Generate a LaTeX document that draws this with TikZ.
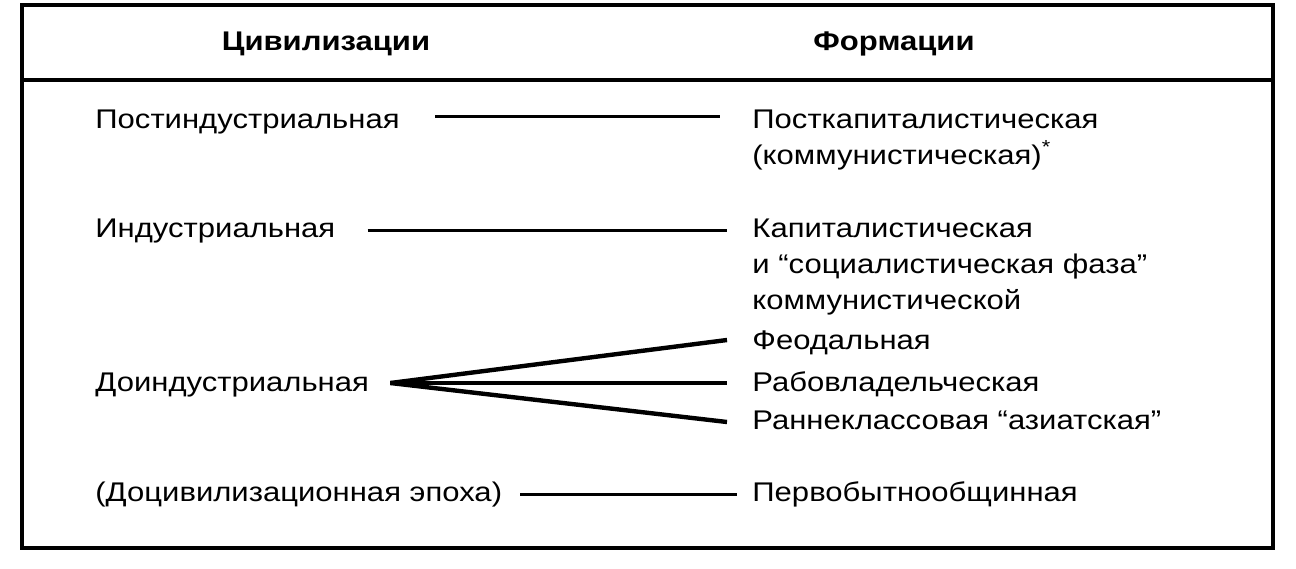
\documentclass[tikz,border=0pt]{standalone}
\usepackage{fontspec}
\setmainfont{Liberation Sans}[FakeStretch=1.15]
\usepackage{tikz}
\usetikzlibrary{scopes}

\newcommand{\txtsize}{\fontsize{13.5pt}{18.2pt}\selectfont}

\tikzset{
	lbl/.style={anchor=base west,align=left,inner sep=0pt,font=\txtsize},
	hdr/.style={anchor=base,inner sep=0pt,font=\txtsize\bfseries},
	link/.style={line width=1.5pt},
	fan/.style={line width=2.2pt},
	frame/.style={line width=2pt}
}

\begin{document}
\begin{tikzpicture}[x=0.5pt,y=-0.5pt]
	\useasboundingbox (0,0) rectangle (1296,568);
	\draw[frame] (22,5) rectangle (1273,548);
	\draw[frame] (22,80) -- (1273,80);

	\node[hdr] (hciv) at (326,50) {Цивилизации};
	\node[hdr] (hform) at (894,50) {Формации};

	\node[lbl] (postind) at (95,128) {Постиндустриальная};
	\node[lbl] (ind) at (95,237) {Индустриальная};
	\node[lbl] (preind) at (95,391) {Доиндустриальная};
	\node[lbl] (precivil) at (95,501) {(Доцивилизационная эпоха)};

	\node[lbl] (post) at (752,164.4) {Посткапиталистическая\\(коммунистическая)\textsuperscript{*}};
	\node[lbl] (cap) at (752,309.8) {Капиталистическая\\и “социалистическая фаза”\\коммунистической};
	\node[lbl] (feud) at (752,349) {Феодальная};
	\node[lbl] (slave) at (752,391) {Рабовладельческая};
	\node[lbl] (asia) at (752,429) {Раннеклассовая “азиатская”};
	\node[lbl] (prim) at (752,501) {Первобытнообщинная};

	\draw[link] ([xshift=17.5pt,yshift=6pt]postind.base east) -- ([xshift=-16pt,yshift=6pt]post.west |- postind.base east);
	\draw[link] ([xshift=16pt,yshift=3.5pt]ind.base east) -- ([xshift=-12.5pt,yshift=3.5pt]cap.west |- ind.base east);
	\draw[fan] ([xshift=10.5pt,yshift=4pt]preind.base east) coordinate (apex) -- ([xshift=-12.5pt,yshift=4.5pt]feud.base west);
	\draw[fan] (apex) -- ([xshift=-12.5pt,yshift=4pt]slave.base west);
	\draw[fan] (apex) -- ([xshift=-12.5pt,yshift=3.5pt]asia.base west);
	\draw[link] ([xshift=9pt,yshift=3.5pt]precivil.base east) -- ([xshift=-7.5pt,yshift=3.5pt]prim.base west);
\end{tikzpicture}
\end{document}
